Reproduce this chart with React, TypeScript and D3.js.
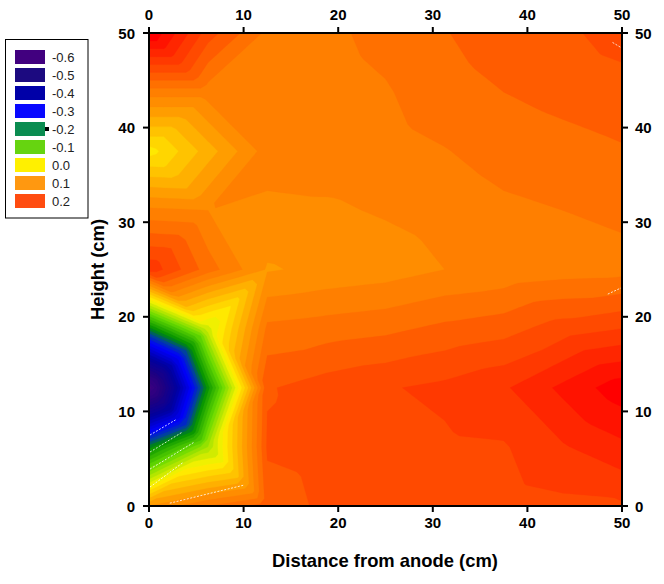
import * as d3 from "d3";

const WIDTH = 664;
const HEIGHT = 584;
const PLOT = { left: 149, right: 622, top: 33, bottom: 506 };

// Grid nodes (cm)
const distances = [0, 6.25, 12.5, 18.75, 25, 31.25, 37.5, 43.75, 50];
const heights = [0, 6.25, 12.5, 18.75, 25, 31.25, 37.5, 43.75, 50];

// Potential, one row per height
const rowH0 = [0.1, 0.14, 0.17, 0.184, 0.186, 0.188, 0.19, 0.195, 0.197];
const rowH6 = [-0.21, -0.06, 0.183, 0.188, 0.192, 0.196, 0.198, 0.218, 0.235];
const rowH12 = [-0.6, -0.19, 0.178, 0.19, 0.198, 0.205, 0.217, 0.245, 0.272];
const rowH18 = [-0.21, -0.03, 0.145, 0.15, 0.155, 0.165, 0.172, 0.19, 0.2];
const rowH25 = [0.215, 0.15, 0.098, 0.105, 0.11, 0.12, 0.125, 0.13, 0.132];
const rowH31 = [0.125, 0.12, 0.115, 0.117, 0.122, 0.128, 0.136, 0.14, 0.145];
const rowH37 = [0.01, 0.07, 0.13, 0.13, 0.132, 0.139, 0.148, 0.153, 0.158];
const rowH43 = [0.13, 0.13, 0.13, 0.13, 0.138, 0.152, 0.16, 0.166, 0.172];
const rowH50 = [0.28, 0.19, 0.135, 0.135, 0.147, 0.159, 0.17, 0.176, 0.188];
const rows = [rowH0, rowH6, rowH12, rowH18, rowH25, rowH31, rowH37, rowH43, rowH50];

const tickValues = [0, 10, 20, 30, 40, 50];

const legendLabels = ["-0.6", "-0.5", "-0.4", "-0.3", "-0.2", "-0.1", "0.0", "0.1", "0.2"];
const legendColors = ["#41007f", "#1c0a80", "#0000a8", "#0808ff", "#0a8c50", "#66d410", "#fff000", "#ff9810", "#ff4c10"];

const colorStops = [-0.6, -0.5, -0.4, -0.3, -0.25, -0.2, -0.1, 0, 0.1, 0.13, 0.15, 0.17, 0.19, 0.22, 0.27];
const colorValues = ["#400080", "#200080", "#0000a0", "#0000ff", "#0040a0", "#009000", "#66d900", "#fff200", "#ff9400", "#ff7f00", "#ff7000", "#ff5c00", "#ff4a00", "#ff3000", "#ff0000"];

// Thin white gaps left in the lower left of the plot (cm: x1, y1, x2, y2)
const gaps = [
  [0.1, 7.5, 2.8, 9.1],
  [0.1, 5.7, 3.5, 7.8],
  [0.1, 3.9, 4.7, 6.7],
  [0.1, 2, 3.6, 4.6],
  [2.2, 0.3, 10, 2.2],
  [49, 49, 50, 48.4],
  [48.5, 22.4, 50, 23.1],
];

// The original contours come from a triangle mesh with alternating diagonals,
// so resample each triangle onto a finer grid before running d3.contours
const SUBDIV = 8;
const nx = (distances.length - 1) * SUBDIV + 1;
const ny = (heights.length - 1) * SUBDIV + 1;

function meshValue(fx: number, fy: number) {
  const i = Math.min(Math.floor(fx), distances.length - 2);
  const j = Math.min(Math.floor(fy), heights.length - 2);
  const u = fx - i;
  const v = fy - j;
  const z00 = rows[j][i];
  const z10 = rows[j][i + 1];
  const z01 = rows[j + 1][i];
  const z11 = rows[j + 1][i + 1];
  if ((i + j) % 2 === 0) {
    // diagonal from (i,j) to (i+1,j+1)
    return u > v ? z00 + u * (z10 - z00) + v * (z11 - z10) : z00 + v * (z01 - z00) + u * (z11 - z01);
  }
  // diagonal from (i+1,j) to (i,j+1)
  return u + v < 1 ? z00 + u * (z10 - z00) + v * (z01 - z00) : z11 + (1 - u) * (z01 - z11) + (1 - v) * (z10 - z11);
}

const fineValues: number[] = [];
for (let j = 0; j < ny; j++) {
  for (let i = 0; i < nx; i++) {
    fineValues.push(meshValue(i / SUBDIV, j / SUBDIV));
  }
}

const colorScale = d3.scaleLinear<string>().domain(colorStops).range(colorValues).clamp(true);
const thresholds = d3.range(-0.7, 0.3, 0.02);

const xScale = d3.scaleLinear().domain([0, 50]).range([PLOT.left, PLOT.right]);
const yScale = d3.scaleLinear().domain([0, 50]).range([PLOT.bottom, PLOT.top]);

// d3.contours puts grid node i at coordinate i + 0.5
const xGrid = d3.scaleLinear().domain([0.5, nx - 0.5]).range([PLOT.left, PLOT.right]);
const yGrid = d3.scaleLinear().domain([0.5, ny - 0.5]).range([PLOT.bottom, PLOT.top]);

const contourPath = d3.geoPath(
  d3.geoTransform({
    point(x, y) {
      this.stream.point(xGrid(x), yGrid(y));
    },
  })
);

const bands = d3.contours().size([nx, ny]).thresholds(thresholds)(fineValues);

const SANS = "'Liberation Sans', Arial, sans-serif";

export default function App() {
  return (
    <svg
      width={WIDTH}
      height={HEIGHT}
      style={{ position: "absolute", left: 0, top: 0, background: "#fff" }}
      fontFamily={SANS}
    >
      <defs>
        <clipPath id="plot-clip">
          <rect x={PLOT.left} y={PLOT.top} width={PLOT.right - PLOT.left} height={PLOT.bottom - PLOT.top} />
        </clipPath>
      </defs>

      {/* Filled contour bands, lowest first */}
      <g clipPath="url(#plot-clip)">
        {bands.map((b) => (
          <path key={b.value} d={contourPath(b) ?? ""} fill={colorScale(b.value + 0.01)} stroke={colorScale(b.value + 0.01)} strokeWidth={0.3} />
        ))}
        {gaps.map((g, i) => (
          <line
            key={i}
            x1={xScale(g[0])}
            y1={yScale(g[1])}
            x2={xScale(g[2])}
            y2={yScale(g[3])}
            stroke="#fff"
            strokeWidth={0.8}
            strokeDasharray="2 1.5"
          />
        ))}
      </g>

      {/* Frame */}
      <rect
        x={PLOT.left}
        y={PLOT.top}
        width={PLOT.right - PLOT.left}
        height={PLOT.bottom - PLOT.top}
        fill="none"
        stroke="#000"
        strokeWidth={2}
      />

      {/* Ticks on all four sides */}
      <g fontSize={15} fontWeight="bold" fill="#000">
        {tickValues.map((t) => (
          <g key={t}>
            <line x1={xScale(t)} x2={xScale(t)} y1={PLOT.bottom} y2={PLOT.bottom + 6} stroke="#000" strokeWidth={2} />
            <line x1={xScale(t)} x2={xScale(t)} y1={PLOT.top} y2={PLOT.top - 6} stroke="#000" strokeWidth={2} />
            <line x1={PLOT.left} x2={PLOT.left - 6} y1={yScale(t)} y2={yScale(t)} stroke="#000" strokeWidth={2} />
            <line x1={PLOT.right} x2={PLOT.right + 6} y1={yScale(t)} y2={yScale(t)} stroke="#000" strokeWidth={2} />
            <text x={xScale(t)} y={PLOT.bottom + 22} textAnchor="middle">{t}</text>
            <text x={xScale(t)} y={PLOT.top - 13} textAnchor="middle">{t}</text>
            <text x={PLOT.left - 14} y={yScale(t) + 5.5} textAnchor="end">{t}</text>
            <text x={PLOT.right + 13} y={yScale(t) + 5.5}>{t}</text>
          </g>
        ))}
      </g>

      {/* Axis titles */}
      <text x={385} y={567} textAnchor="middle" fontSize={18.4} fontWeight="bold">
        Distance from anode (cm)
      </text>
      <text
        transform={`translate(104,269.5) rotate(-90)`}
        textAnchor="middle"
        fontSize={18.4}
        fontWeight="bold"
      >
        Height (cm)
      </text>

      {/* Legend */}
      <rect x={5.5} y={39.5} width={82.5} height={178.5} fill="#fff" stroke="#000" strokeWidth={1} />
      {legendLabels.map((label, i) => (
        <g key={label} transform={`translate(0,${50 + i * 18})`}>
          <rect x={15} y={0} width={30} height={14} fill={legendColors[i]} />
          <text x={52} y={12} fontSize={13} fill="#222">{label}</text>
        </g>
      ))}
      <rect x={45} y={127} width={4} height={4} fill="#000" />
    </svg>
  );
}
